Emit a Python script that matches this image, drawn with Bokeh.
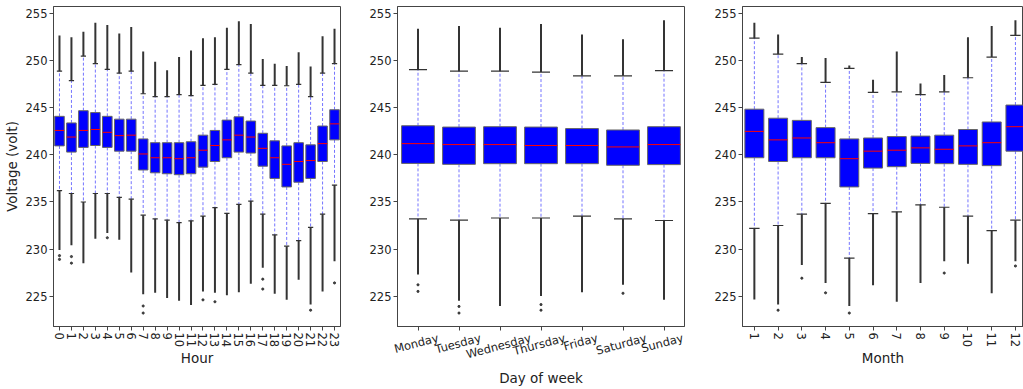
import numpy as np
from bokeh.plotting import figure
from bokeh.layouts import row
from bokeh.models import Range1d, FixedTicker, ColumnDataSource, LinearAxis
from bokeh.embed import file_html
from bokeh.resources import INLINE

# ---------------- data ----------------
hours = list(range(24))
hour_labels = [str(h) for h in hours]
hour_q1 = [240.96, 240.3, 240.8, 241.0, 240.8, 240.4, 240.4, 238.4, 238.1, 238.0, 237.9, 238.0,
           238.7, 239.3, 239.7, 240.3, 240.2, 238.8, 237.5, 236.6, 237.1, 237.5, 239.3, 241.6]
hour_med = [242.6, 241.9, 242.6, 242.7, 242.4, 242.05, 242.1, 240.1, 239.7, 239.7, 239.6, 239.7,
            240.5, 241.0, 241.6, 242.1, 241.9, 240.7, 239.7, 239.0, 239.3, 239.4, 241.2, 243.3]
hour_q3 = [244.1, 243.4, 244.7, 244.5, 244.1, 243.8, 243.8, 241.7, 241.3, 241.3, 241.3, 241.4,
           242.1, 242.6, 243.7, 244.05, 243.6, 242.3, 241.5, 240.96, 241.3, 241.07, 243.07, 244.8]
hour_whis_hi = [248.9, 247.9, 250.5, 249.7, 249.1, 248.7, 248.9, 246.5, 246.2, 246.2, 246.4, 246.3,
                247.4, 247.5, 249.1, 249.6, 248.7, 247.4, 247.4, 247.35, 247.5, 246.2, 248.7, 249.7]
hour_whis_lo = [236.2, 235.9, 235.0, 235.9, 235.9, 235.5, 235.3, 233.6, 233.2, 233.07, 232.8, 233.0,
                233.5, 234.4, 233.8, 234.75, 235.1, 233.7, 231.5, 230.3, 230.9, 232.3, 233.7, 236.8]
hour_max = [252.7, 252.5, 253.1, 254.05, 253.8, 252.9, 253.6, 251.0, 249.9, 249.0, 250.4, 251.1,
            252.4, 252.5, 253.5, 254.2, 253.9, 250.2, 249.7, 249.45, 250.9, 249.4, 252.6, 253.4]
hour_min = [229.9, 230.4, 228.5, 231.1, 231.7, 231.0, 227.5, 225.2, 225.35, 224.8, 224.5, 224.05,
            225.5, 225.35, 225.1, 225.4, 226.3, 228.0, 225.25, 224.6, 226.75, 224.1, 225.5, 228.7]
hour_iso_x = [0, 0, 1, 1, 4, 7, 7, 12, 13, 17, 17, 21, 23]
hour_iso_y = [229.3, 228.9, 229.2, 228.5, 231.2, 223.95, 223.2, 224.6, 224.4, 226.8, 225.75, 223.5, 226.4]

days = ["Monday", "Tuesday", "Wednesday", "Thursday", "Friday", "Saturday", "Sunday"]
day_q1 = [239.1, 239.0, 239.07, 239.07, 239.07, 238.9, 238.97]
day_med = [241.2, 241.1, 241.1, 241.0, 241.0, 240.85, 241.1]
day_q3 = [243.1, 242.96, 243.0, 242.96, 242.8, 242.65, 243.0]
day_whis_hi = [249.07, 248.9, 248.9, 248.8, 248.4, 248.4, 248.96]
day_whis_lo = [233.2, 233.07, 233.3, 233.3, 233.5, 233.2, 233.03]
day_max = [253.4, 253.7, 253.5, 253.9, 252.8, 252.3, 254.3]
day_min = [227.3, 224.5, 223.95, 225.0, 225.4, 226.2, 224.6]
day_iso_x = [0, 0, 1, 1, 3, 3, 5]
day_iso_y = [226.2, 225.5, 223.9, 223.2, 224.1, 223.5, 225.3]

months = list(range(1, 13))
month_labels = [str(m) for m in months]
mon_q1 = [239.7, 239.3, 239.7, 239.7, 236.6, 238.6, 238.75, 239.1, 239.07, 239.0, 238.86, 240.4]
mon_med = [242.5, 241.6, 241.8, 241.3, 239.6, 240.4, 240.5, 240.75, 240.6, 240.96, 241.3, 243.0]
mon_q3 = [244.86, 243.9, 243.67, 242.9, 241.7, 241.8, 241.95, 242.0, 242.1, 242.7, 243.5, 245.3]
mon_whis_hi = [252.4, 250.7, 249.7, 247.7, 249.2, 246.65, 246.7, 246.4, 246.7, 248.2, 250.4, 252.7]
mon_whis_lo = [232.2, 232.5, 233.7, 234.86, 229.04, 233.77, 233.95, 234.7, 234.44, 233.5, 231.95, 233.07]
mon_max = [254.05, 252.8, 250.4, 250.3, 249.5, 247.98, 251.0, 247.6, 248.5, 252.5, 253.7, 254.3]
mon_min = [224.65, 224.1, 228.3, 226.4, 223.95, 226.16, 224.4, 226.4, 228.7, 228.44, 225.3, 228.7]
mon_iso_x = [2, 3, 4, 5, 9, 12]
mon_iso_y = [223.5, 226.9, 225.35, 223.2, 227.45, 228.2]

y_ticks = [225, 230, 235, 240, 245, 250, 255]

# ---------------- styling ----------------
FONT = "DejaVu Sans"
TICK_PX = 11.5
Y0, Y1 = 221.77, 255.77
H = 389
BOX_W = 0.8
CAP_HALF = 0.22
TXT = "#222222"
AX = "#444444"
DAY_ANGLE = np.pi / 12

# DejaVu Sans advance widths (em) for centring the rotated day names
_EM = {"M": .863, "o": .612, "n": .634, "d": .635, "a": .613, "y": .592, "T": .611,
       "u": .634, "e": .615, "s": .521, "W": .989, "h": .634, "r": .411, "F": .575,
       "i": .278, "S": .635, "t": .392}


def text_px(s):
    return sum(_EM.get(c, 0.6) for c in s) * TICK_PX


def style_axis(ax):
    ax.axis_line_color = AX
    ax.major_tick_line_color = AX
    ax.major_tick_out = 4
    ax.major_tick_in = 0
    ax.minor_tick_line_color = None
    ax.major_label_text_font = FONT
    ax.major_label_text_font_size = f"{TICK_PX}px"
    ax.major_label_text_color = TXT
    ax.major_label_standoff = 2
    ax.axis_label_text_font = FONT
    ax.axis_label_text_font_size = "13.5px"
    ax.axis_label_text_font_style = "normal"
    ax.axis_label_text_color = TXT


def panel(xs, labels, q1, med, q3, wlo, whi, omin, omax, iso_x, iso_y,
          x_start, x_end, width, bl, br, xlabel, ylabel, orient, xstandoff):
    p = figure(width=width, height=H, x_range=Range1d(x_start, x_end),
               y_range=Range1d(Y0, Y1), output_backend="svg", toolbar_location=None,
               min_border_left=bl, min_border_right=br, min_border_top=6,
               min_border_bottom=60)
    xs = np.asarray(xs, dtype=float)
    src = ColumnDataSource(dict(
        x=xs, x0=xs - BOX_W / 2, x1=xs + BOX_W / 2,
        c0=xs - CAP_HALF, c1=xs + CAP_HALF,
        q1=q1, med=med, q3=q3, wlo=wlo, whi=whi, omin=omin, omax=omax))

    # outliers (dense columns of flier points)
    p.segment("x", "whi", "x", "omax", source=src, line_color="#111111",
              line_width=2.0, line_alpha=0.85)
    p.segment("x", "wlo", "x", "omin", source=src, line_color="#111111",
              line_width=2.0, line_alpha=0.85)
    p.scatter(iso_x, iso_y, size=2.2, color="#222222", alpha=0.8)
    # whiskers
    p.segment("x", "q3", "x", "whi", source=src, line_color="blue",
              line_alpha=0.55, line_dash="3 2", line_width=1)
    p.segment("x", "q1", "x", "wlo", source=src, line_color="blue",
              line_alpha=0.55, line_dash="3 2", line_width=1)
    # caps
    p.segment("c0", "whi", "c1", "whi", source=src, line_color="#333333", line_width=1.2)
    p.segment("c0", "wlo", "c1", "wlo", source=src, line_color="#333333", line_width=1.2)
    # boxes
    p.vbar(x="x", width=BOX_W, bottom="q1", top="q3", source=src,
           fill_color="blue", line_color="#666666", line_width=1)
    # medians
    p.segment("x0", "med", "x1", "med", source=src, line_color="red", line_width=1)

    p.xgrid.visible = False
    p.ygrid.visible = False
    p.outline_line_color = AX
    p.outline_line_width = 1
    p.background_fill_color = "white"
    p.border_fill_color = "white"

    p.xaxis.ticker = FixedTicker(ticks=list(xs))
    p.xaxis.major_label_overrides = {float(x): l for x, l in zip(xs, labels)}
    p.xaxis.major_label_orientation = orient
    p.yaxis.ticker = FixedTicker(ticks=y_ticks)
    style_axis(p.xaxis[0])
    style_axis(p.yaxis[0])
    if xlabel:
        p.xaxis.axis_label = xlabel
        p.xaxis.axis_label_standoff = xstandoff
    if ylabel:
        p.yaxis.axis_label = ylabel
        p.yaxis.axis_label_standoff = 3
    return p


p1 = panel(hours, hour_labels, hour_q1, hour_med, hour_q3, hour_whis_lo, hour_whis_hi,
           hour_min, hour_max, hour_iso_x, hour_iso_y,
           -0.5, 23.5, 360, 52, 20, "Hour", "Voltage (volt)", "vertical", 0)

day_x = list(range(7))
p2 = panel(day_x, days, day_q1, day_med, day_q3, day_whis_lo, day_whis_hi,
           day_min, day_max, day_iso_x, day_iso_y,
           -0.5, 6.5, 344, 37, 20, None, None, DAY_ANGLE, 0)
# main axis keeps the tick marks; the day names sit on a second axis so that each
# rotated name is centred under its tick, as in the reference
p2.xaxis[0].major_label_text_color = None
p2.xaxis[0].major_label_standoff = 0
PX_PER_DAY = 287 / 7.0
h_px = 1.164 * TICK_PX
shift = [(text_px(d) * np.cos(DAY_ANGLE) - h_px * np.sin(DAY_ANGLE)) / 2 / PX_PER_DAY
         for d in days]
label_pos = [x + s for x, s in zip(day_x, shift)]
day_axis = LinearAxis(ticker=FixedTicker(ticks=label_pos),
                      major_label_overrides={float(v): d for v, d in zip(label_pos, days)},
                      major_label_orientation=DAY_ANGLE)
style_axis(day_axis)
day_axis.axis_line_color = None
day_axis.major_tick_line_color = None
day_axis.major_tick_out = 0
day_axis.major_label_standoff = 7
day_axis.axis_label = "Day of week"
day_axis.axis_label_standoff = -1
p2.add_layout(day_axis, "below")

p3 = panel(months, month_labels, mon_q1, mon_med, mon_q3, mon_whis_lo, mon_whis_hi,
           mon_min, mon_max, mon_iso_x, mon_iso_y,
           0.5, 12.34, 319, 38, 0, "Month", None, "vertical", 0)

layout = row(p1, p2, p3)
open("out.html", "w").write(file_html(layout, INLINE))
